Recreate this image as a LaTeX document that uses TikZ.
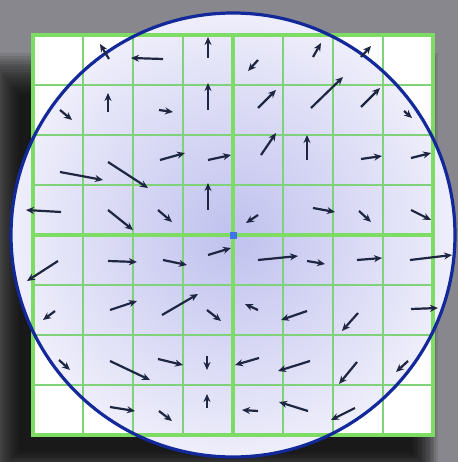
\documentclass[tikz,border=0pt]{standalone}
\usetikzlibrary{arrows.meta}
\definecolor{bg}{HTML}{87878D}
\definecolor{gridg}{HTML}{7EDB63}
\definecolor{thing}{HTML}{80D27A}
\definecolor{rim}{HTML}{13299A}
\definecolor{arr}{HTML}{1E2642}
\definecolor{discin}{HTML}{C0C1EE}
\definecolor{discout}{HTML}{EEEEFB}
\definecolor{dot}{HTML}{3F73EA}
\begin{document}
\begin{tikzpicture}[x=1pt,y=-1pt,
  vec/.style={arr, line width=2.2pt, -{Stealth[length=8pt,width=7pt]}},
  thinline/.style={thing, line width=1.6pt},
  thickline/.style={gridg, line width=4.5pt}]
\useasboundingbox (0,0) rectangle (458,462);
\fill[bg] (0,0) rectangle (458,462);
% shadow
\foreach \i in {0,...,16}
  \fill[black,opacity=0.085] ({19-(16-\i)*2},{95-(16-\i)*2.6}) rectangle ({412+(16-\i)*1.6},{452+(16-\i)*1.6});
% grid paper
\fill[white] (33,35) rectangle (433,435);
% disc
\shade[inner color=discin, outer color=discout] (233,235) circle (222);
% grid lines
\foreach \k in {1,2,3,5,6,7} {
  \draw[thinline] ({33+50*\k},35) -- ({33+50*\k},435);
  \draw[thinline] (33,{35+50*\k}) -- (433,{35+50*\k});
}
\draw[thickline] (33,35) rectangle (433,435);
\draw[thickline] (233,35) -- (233,435);
\draw[thickline] (33,235) -- (433,235);
% rim
\draw[rim, line width=3.2pt] (233,235) circle (222);
% arrows
% row 0
\draw[vec] (109,59) -- (100,44);
\draw[vec] (163,59) -- (131,58);
\draw[vec] (208,58) -- (208,37);
\draw[vec] (258,60) -- (248,71);
\draw[vec] (313,57) -- (321,43);
\draw[vec] (361,57) -- (371,46);
% row 1
\draw[vec] (60,110) -- (72,120);
\draw[vec] (108,112) -- (108,93);
\draw[vec] (159,110) -- (173,112);
\draw[vec] (208,110) -- (208,83);
\draw[vec] (258,108) -- (276,90);
\draw[vec] (311,108) -- (343,77);
\draw[vec] (361,107) -- (380,88);
\draw[vec] (404,111) -- (412,118);
% row 2
\draw[vec] (60,172) -- (103,180);
\draw[vec] (108,162) -- (148,188);
\draw[vec] (160,160) -- (185,153);
\draw[vec] (208,160) -- (231,155);
\draw[vec] (261,155) -- (276,133);
\draw[vec] (307,160) -- (307,135);
\draw[vec] (361,159) -- (382,156);
\draw[vec] (411,158) -- (431,153);
% row 3
\draw[vec] (61,212) -- (26,210);
\draw[vec] (108,210) -- (133,230);
\draw[vec] (158,210) -- (172,222);
\draw[vec] (208,210) -- (208,183);
\draw[vec] (258,215) -- (246,223);
\draw[vec] (313,208) -- (335,212);
\draw[vec] (359,211) -- (371,222);
\draw[vec] (411,210) -- (431,220);
% row 4
\draw[vec] (58,261) -- (27,281);
\draw[vec] (108,261) -- (137,262);
\draw[vec] (163,260) -- (187,265);
\draw[vec] (208,255) -- (231,248);
\draw[vec] (258,260) -- (298,256);
\draw[vec] (307,261) -- (325,264);
\draw[vec] (357,260) -- (382,258);
\draw[vec] (410,260) -- (452,255);
% row 5
\draw[vec] (55,311) -- (43,320);
\draw[vec] (110,310) -- (137,301);
\draw[vec] (162,315) -- (198,294);
\draw[vec] (207,310) -- (221,321);
\draw[vec] (258,310) -- (245,304);
\draw[vec] (307,311) -- (281,320);
\draw[vec] (358,313) -- (342,331);
\draw[vec] (411,309) -- (438,308);
% row 6
\draw[vec] (59,360) -- (70,370);
\draw[vec] (110,361) -- (150,380);
\draw[vec] (158,359) -- (183,365);
\draw[vec] (207,356) -- (207,370);
\draw[vec] (259,358) -- (235,365);
\draw[vec] (310,361) -- (278,371);
\draw[vec] (357,362) -- (339,384);
\draw[vec] (408,361) -- (396,372);
% row 7
\draw[vec] (110,407) -- (135,411);
\draw[vec] (159,411) -- (172,421);
\draw[vec] (207,408) -- (207,394);
\draw[vec] (258,411) -- (242,410);
\draw[vec] (308,411) -- (279,402);
\draw[vec] (355,408) -- (331,420);
% centre dot
\fill[dot] (229.5,231.5) rectangle (236.5,238.5);
\end{tikzpicture}
\end{document}
